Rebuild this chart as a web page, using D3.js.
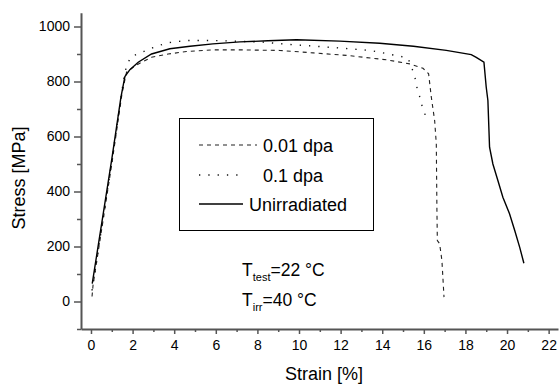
<!DOCTYPE html>
<html>
<head>
<meta charset="utf-8">
<script src="https://cdn.jsdelivr.net/npm/d3@7"></script>
<style>
  body { margin: 0; background: #fff; }
  svg { display: block; font-family: Arial, "Liberation Sans", sans-serif; }
</style>
</head>
<body>
<svg id="chart" width="559" height="384"></svg>
<script>
// ---- data ----
const unirrStrain = [0.06, 0.6, 1.0, 1.44, 1.63, 1.87, 2.27, 2.91, 3.79, 4.76, 5.86, 7.16, 8.5, 9.88, 11.96, 13.88, 15.5, 17.08, 18.28, 18.52, 18.89, 19.0, 19.08, 19.16, 19.32, 19.56, 19.80, 20.12, 20.37, 20.61, 20.81];
const unirrStress = [65, 325, 518, 743, 818, 843, 870, 900, 919, 928, 937, 944, 948, 952, 947, 939, 928, 913, 898, 888, 870, 779, 731, 561, 500, 440, 379, 319, 258, 197, 139];

const dpa01Strain = [0.05, 0.6, 1.0, 1.47, 1.60, 1.71, 1.92, 2.35, 2.83, 3.27, 3.71, 4.59, 5.87, 6.83, 8.28, 9.48, 10.84, 12.12, 13.4, 14.04, 14.84, 15.24, 15.56, 15.64, 15.77, 15.88, 16.04, 16.17];
const dpa01Stress = [40, 310, 510, 755, 822, 856, 891, 903, 919, 931, 941, 949, 949, 947, 943, 935, 928, 921, 913, 904, 892, 885, 822, 785, 755, 719, 685, 651];

const dpa001Strain = [0.05, 0.1, 1.0, 1.5, 1.71, 2.03, 2.43, 2.91, 3.71, 4.59, 5.87, 7.16, 9.08, 10.68, 12.28, 14.2, 15.32, 15.96, 16.23, 16.36, 16.52, 16.6, 16.63, 16.65, 16.76, 16.87, 16.97];
const dpa001Stress = [18, 60, 500, 760, 834, 852, 870, 888, 900, 909, 915, 915, 913, 904, 895, 879, 864, 848, 828, 743, 658, 573, 331, 222, 210, 149, 16];

const xTicks = [0, 2, 4, 6, 8, 10, 12, 14, 16, 18, 20, 22];
const yTicks = [0, 200, 400, 600, 800, 1000];
const legendLabels = ["0.01 dpa", "0.1 dpa", "Unirradiated"];

// ---- layout ----
const svg = d3.select("#chart");
const x = d3.scaleLinear().domain([-0.48, 22.45]).range([81, 558]);
const y = d3.scaleLinear().domain([-100, 1050]).range([329, 12.75]);
const axisColor = "#555";

// minor ticks
const xMinor = d3.range(0, 23, 1).filter(v => v % 2 !== 0);
const yMinor = d3.range(-100, 1050, 100).filter(v => v % 200 !== 0);

const gx = svg.append("g").attr("transform", `translate(0,${y.range()[0]})`);
gx.call(d3.axisBottom(x).tickValues(xTicks).tickFormat(d => String(d)).tickSize(5).tickPadding(6).tickSizeOuter(0));
const gxm = svg.append("g").attr("transform", `translate(0,${y.range()[0]})`);
gxm.call(d3.axisBottom(x).tickValues(xMinor).tickSize(3).tickFormat("").tickSizeOuter(0));
gxm.select(".domain").remove();

const gy = svg.append("g").attr("transform", `translate(${x.range()[0]},0)`);
gy.call(d3.axisLeft(y).tickValues(yTicks).tickFormat(d => String(d)).tickSize(7).tickPadding(4).tickSizeOuter(0));
const gym = svg.append("g").attr("transform", `translate(${x.range()[0]},0)`);
gym.call(d3.axisLeft(y).tickValues(yMinor).tickSize(4).tickFormat("").tickSizeOuter(0));
gym.select(".domain").remove();

svg.selectAll(".domain").attr("stroke", axisColor).attr("stroke-width", 2);
svg.selectAll(".tick line").attr("stroke", axisColor).attr("stroke-width", 1.5);
svg.selectAll(".tick text").attr("font-size", 14).attr("fill", "#000")
   .attr("font-family", "Arial, 'Liberation Sans', sans-serif");

// axis titles
svg.append("text").attr("x", 324).attr("y", 380).attr("text-anchor", "middle")
   .attr("font-size", 18).text("Strain [%]");
svg.append("text").attr("transform", "translate(25,178) rotate(-90)")
   .attr("text-anchor", "middle").attr("font-size", 18).text("Stress [MPa]");

// curves
const line = d3.line().x(d => x(d[0])).y(d => y(d[1]));
const zip = (a, b) => a.map((v, i) => [v, b[i]]);
const series = [
  { data: zip(dpa001Strain, dpa001Stress), dash: "4,4", width: 1.1, color: "#222", lx2: 257, tx: 263 },
  { data: zip(dpa01Strain, dpa01Stress), dash: "1.3,8", width: 1.4, color: "#111", lx2: 245, tx: 263 },
  { data: zip(unirrStrain, unirrStress), dash: null, width: 1.4, color: "#000", lx2: 243, tx: 249 }
];
series.forEach(s => {
  svg.append("path").datum(s.data).attr("d", line)
    .attr("fill", "none").attr("stroke", s.color).attr("stroke-width", s.width)
    .attr("stroke-dasharray", s.dash);
});

// legend
const lg = svg.append("g");
lg.append("rect").attr("x", 179.5).attr("y", 118.5).attr("width", 194).attr("height", 112)
  .attr("fill", "#fff").attr("stroke", "#000").attr("stroke-width", 1);
const ly = [145, 175, 204];
legendLabels.forEach((lab, i) => {
  const s = series[i];
  lg.append("line").attr("x1", 199).attr("x2", s.lx2).attr("y1", ly[i]).attr("y2", ly[i])
    .attr("stroke", s.color).attr("stroke-width", s.width).attr("stroke-dasharray", s.dash);
  lg.append("text").attr("x", s.tx).attr("y", ly[i] + 7).attr("font-size", 18).text(lab);
});

// annotations
const a1 = svg.append("text").attr("x", 242).attr("y", 276).attr("font-size", 17.5);
a1.append("tspan").text("T");
a1.append("tspan").attr("font-size", 11).attr("dy", 5).text("test");
a1.append("tspan").attr("dy", -5).text("=22 °C");
const a2 = svg.append("text").attr("x", 242).attr("y", 306).attr("font-size", 17.5);
a2.append("tspan").text("T");
a2.append("tspan").attr("font-size", 11).attr("dy", 5).text("irr");
a2.append("tspan").attr("dy", -5).text("=40 °C");
</script>
</body>
</html>
